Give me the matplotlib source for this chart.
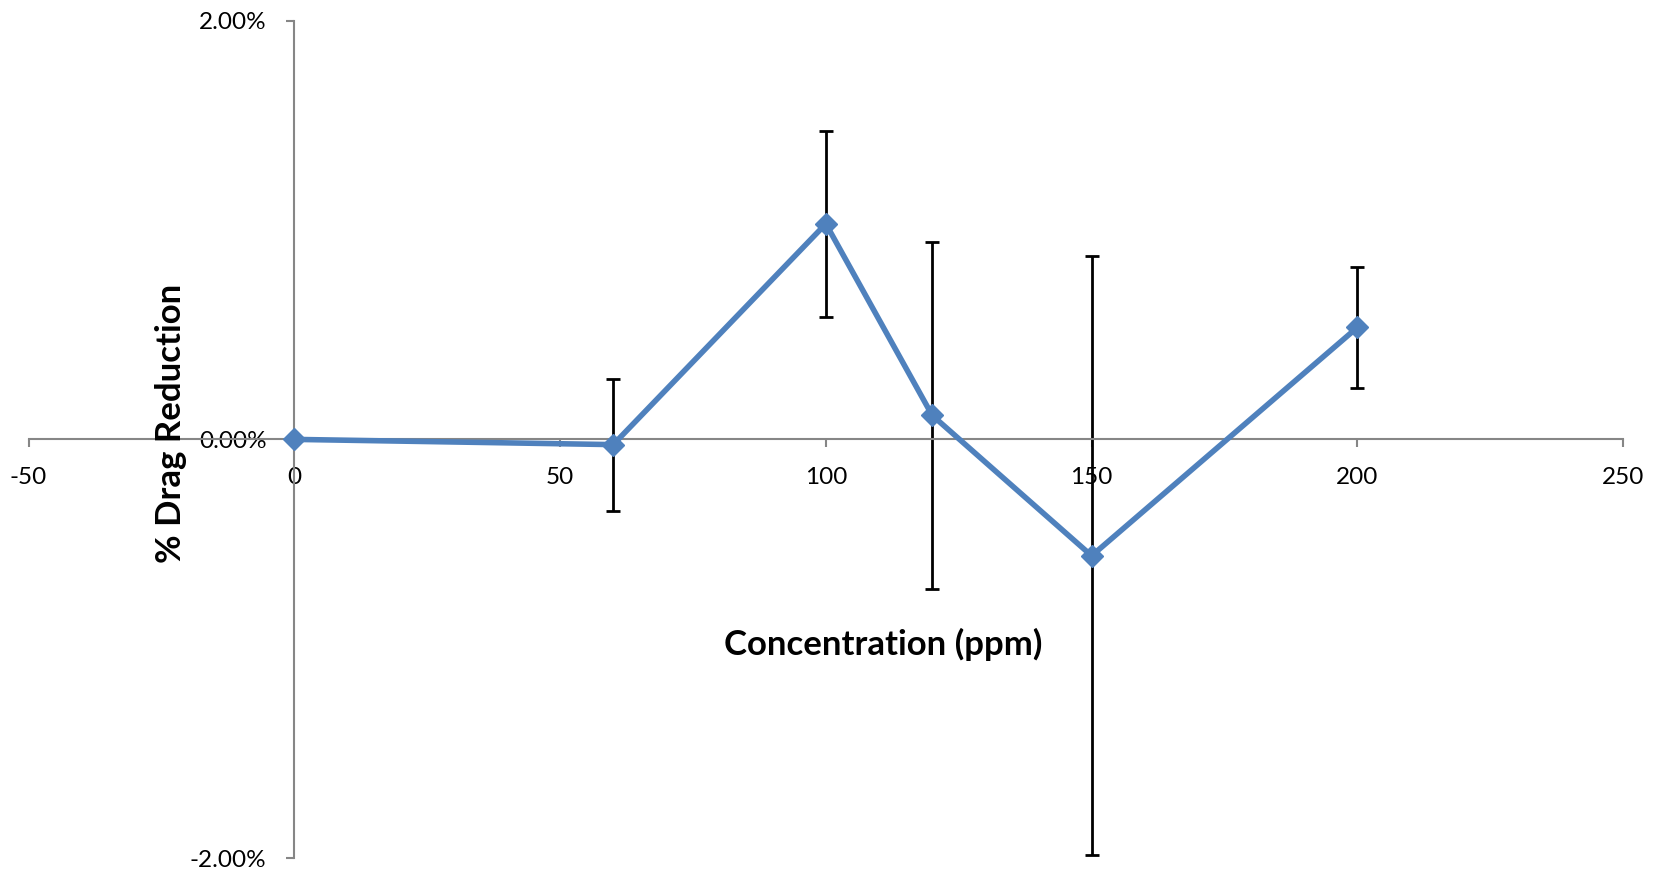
import matplotlib
matplotlib.use("Agg")
import matplotlib.pyplot as plt
from matplotlib.ticker import FuncFormatter

plt.rcParams['font.family'] = ['Lato', 'DejaVu Sans']
plt.rcParams['axes.unicode_minus'] = False

concentration = [0, 60, 100, 120, 150, 200]
drag_reduction = [0.0, -0.025, 1.03, 0.115, -0.556, 0.535]
error = [0.0, 0.315, 0.445, 0.83, 1.43, 0.29]
x_ticks = [-50, 0, 50, 100, 150, 200, 250]
y_ticks = [-2.0, 0.0, 2.0]

fig = plt.figure(figsize=(16.58, 8.75), dpi=100)
ax = fig.add_axes([0.0172, 0.0194, 0.979 - 0.0172, 0.9763 - 0.0194])

ax.errorbar(concentration[1:], drag_reduction[1:], yerr=error[1:], fmt='none',
            ecolor='black', elinewidth=2, capsize=5, capthick=2, zorder=2)
ax.plot(concentration, drag_reduction, color='#4F81BD', linewidth=4,
        marker='D', markersize=11, zorder=3)

ax.set_xlim(-50, 250)
ax.set_ylim(-2.0, 2.0)
ax.set_xticks(x_ticks)
ax.set_yticks(y_ticks)
ax.yaxis.set_major_formatter(FuncFormatter(lambda v, p: f"{v:.2f}%"))

for s in ['top', 'right']:
    ax.spines[s].set_visible(False)
ax.spines['left'].set_position(('data', 0))
ax.spines['bottom'].set_position(('data', 0))
for s in ['left', 'bottom']:
    ax.spines[s].set_color('#868686')
    ax.spines[s].set_linewidth(1.5)

ax.tick_params(axis='both', colors='#868686', labelcolor='black', labelsize=17.5,
               length=6, width=1.5, direction='out')
ax.tick_params(axis='y', pad=14)
ax.tick_params(axis='x', pad=14)

fig.text(883 / 1658, 1 - 644 / 875, 'Concentration (ppm)', ha='center', va='center',
         fontsize=25, fontweight='bold')
fig.text(171 / 1658, 1 - 423 / 875, '% Drag Reduction', ha='center', va='center',
         rotation=90, fontsize=25, fontweight='bold')

fig.savefig('out.png', dpi=100)
